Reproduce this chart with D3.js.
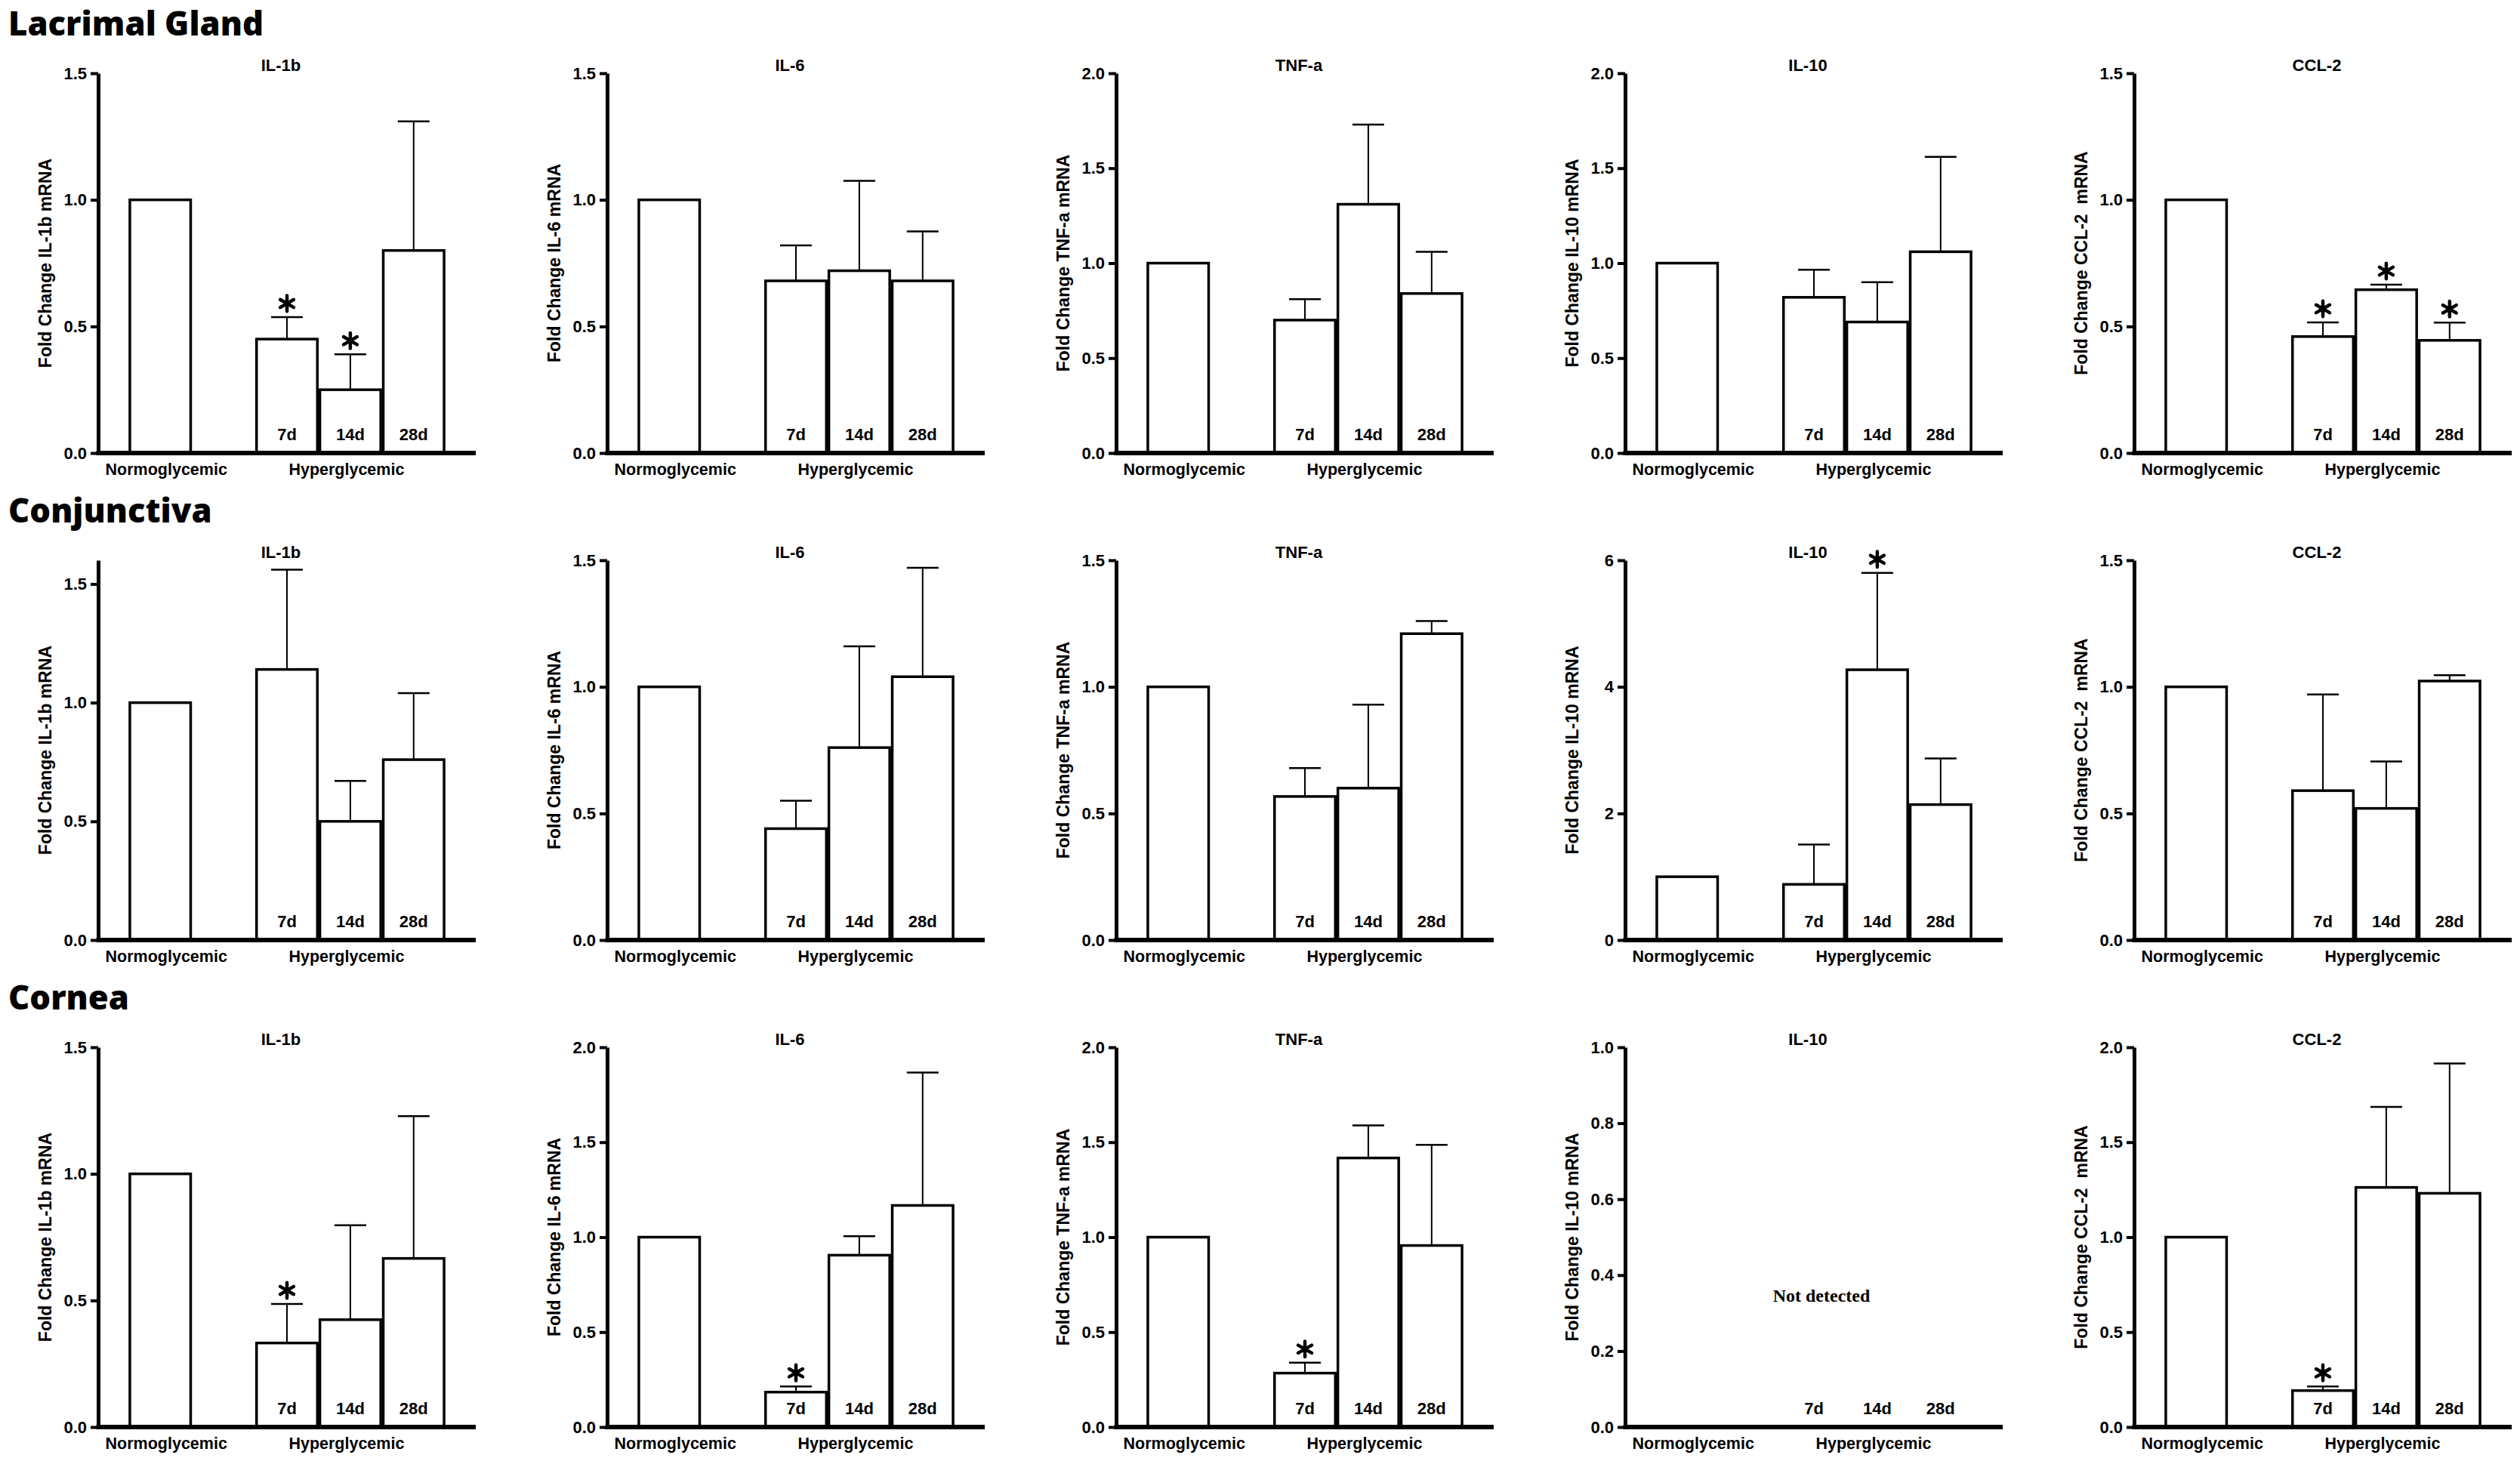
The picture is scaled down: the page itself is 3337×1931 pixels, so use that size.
<!DOCTYPE html>
<html>
<head>
<meta charset="utf-8">
<script src="https://cdn.jsdelivr.net/npm/d3@7"></script>
<style>
  body { margin: 0; background: #fff; }
  svg { display: block; }
</style>
</head>
<body>
<div id="chart"></div>
<script>
// Tissues (rows) and cytokines (columns)
const tissues = ["Lacrimal Gland", "Conjunctiva", "Cornea"];
const cytokines = ["IL-1b", "IL-6", "TNF-a", "IL-10", "CCL-2"];
const yLabels = ["Fold Change IL-1b mRNA", "Fold Change IL-6 mRNA", "Fold Change TNF-a mRNA",
                 "Fold Change IL-10 mRNA", "Fold Change CCL-2  mRNA"];

// Bar groups: control + 3 time points of hyperglycemia
const groups = ["Normoglycemic", "7d", "14d", "28d"];
const groupSlots = [0, 2, 3, 4]; // slot 1 is the gap between the two conditions

// Mean fold change, one row per cytokine
const lacrimalMeans = [
    [1.0, 0.45, 0.25, 0.80],
    [1.0, 0.68, 0.72, 0.68],
    [1.0, 0.70, 1.31, 0.84],
    [1.0, 0.82, 0.69, 1.06],
    [1.0, 0.46, 0.645, 0.445]
];
const lacrimalErrors = [
    [null, 0.087, 0.14, 0.51],
    [null, 0.14, 0.355, 0.195],
    [null, 0.11, 0.42, 0.22],
    [null, 0.145, 0.21, 0.50],
    [null, 0.056, 0.02, 0.07]
];
const lacrimalSig = [
    [false, true, true, false],
    [false, false, false, false],
    [false, false, false, false],
    [false, false, false, false],
    [false, true, true, true]
];

const conjunctivaMeans = [
    [1.0, 1.14, 0.50, 0.76],
    [1.0, 0.44, 0.76, 1.04],
    [1.0, 0.567, 0.60, 1.21],
    [1.0, 0.88, 4.27, 2.14],
    [1.0, 0.59, 0.52, 1.023]
];
const conjunctivaErrors = [
    [null, 0.42, 0.17, 0.28],
    [null, 0.11, 0.40, 0.43],
    [null, 0.112, 0.33, 0.05],
    [null, 0.63, 1.53, 0.73],
    [null, 0.38, 0.185, 0.023]
];
const conjunctivaSig = [
    [false, false, false, false],
    [false, false, false, false],
    [false, false, false, false],
    [false, false, true, false],
    [false, false, false, false]
];

const corneaMeans = [
    [1.0, 0.332, 0.424, 0.666],
    [1.0, 0.184, 0.905, 1.167],
    [1.0, 0.284, 1.417, 0.956],
    null, // IL-10 not detected
    [1.0, 0.192, 1.262, 1.231]
];
const corneaErrors = [
    [null, 0.154, 0.373, 0.562],
    [null, 0.03, 0.10, 0.70],
    [null, 0.055, 0.171, 0.53],
    null,
    [null, 0.022, 0.424, 0.684]
];
const corneaSig = [
    [false, true, false, false],
    [false, true, false, false],
    [false, true, false, false],
    null,
    [false, true, false, false]
];

// y axis extent and tick step per panel
const yMax = [
    [1.5, 1.5, 2.0, 2.0, 1.5],
    [1.6, 1.5, 1.5, 6, 1.5],
    [1.5, 2.0, 2.0, 1.0, 2.0]
];
const yStep = [
    [0.5, 0.5, 0.5, 0.5, 0.5],
    [0.5, 0.5, 0.5, 2, 0.5],
    [0.5, 0.5, 0.5, 0.2, 0.5]
];

const allMeans = [lacrimalMeans, conjunctivaMeans, corneaMeans];
const allErrors = [lacrimalErrors, conjunctivaErrors, corneaErrors];
const allSig = [lacrimalSig, conjunctivaSig, corneaSig];

document.addEventListener('DOMContentLoaded', function() {
    const W = 3337, H = 1931;
    const rowTop = [97, 742, 1387];
    const colLeft = [130, 804, 1478, 2152, 2826];
    const plotW = 500, plotH = 503;
    const font = "'Liberation Sans', Arial, sans-serif";

    const svg = d3.select("#chart").append("svg")
        .attr("width", W).attr("height", H)
        .style("background", "#fff");

    // slots along the x axis
    const xScale = d3.scaleBand()
        .domain(d3.range(5))
        .range([0, plotW])
        .paddingOuter(0.5)
        .paddingInner(0.04);

    // significance marker (6-spoke asterisk)
    const star = d3.symbol().type(d3.symbolAsterisk).size(300);

    // section headings
    tissues.forEach((t, r) => {
        svg.append("text")
            .attr("x", 11).attr("y", rowTop[r] - 50)
            .attr("font-family", "'Open Sans', sans-serif")
            .attr("font-weight", 800)
            .attr("font-size", 45)
            .attr("transform", `translate(11,0) scale(0.97,1) translate(-11,0)`)
            .attr("fill", "#000")
            .text(t);
    });

    function drawPanel(r, c) {
        const g = svg.append("g").attr("transform", `translate(${colLeft[c]},${rowTop[r]})`);
        const means = allMeans[r][c];
        const errs = allErrors[r][c];
        const sig = allSig[r][c];
        const step = yStep[r][c];

        const yScale = d3.scaleLinear().domain([0, yMax[r][c]]).range([plotH, 0]);
        const ticks = d3.range(0, yMax[r][c] + 1e-9, step);
        const fmt = step >= 1 ? d3.format("d") : d3.format(".1f");

        // y axis
        const yAxis = g.append("g")
            .call(d3.axisLeft(yScale).tickValues(ticks).tickFormat(fmt).tickSize(10).tickSizeOuter(0).tickPadding(5));
        yAxis.select(".domain").attr("stroke", "#000").attr("stroke-width", 5);
        yAxis.selectAll(".tick line").attr("stroke", "#000").attr("stroke-width", 4);
        yAxis.selectAll(".tick text")
            .attr("font-family", font).attr("font-weight", 700)
            .attr("font-size", 22).attr("fill", "#000");

        // title
        g.append("text")
            .attr("x", 242).attr("y", -3)
            .attr("text-anchor", "middle")
            .attr("font-family", font).attr("font-weight", 700).attr("font-size", 22)
            .text(cytokines[c]);

        // y label
        g.append("text")
            .attr("transform", `translate(-62,${plotH / 2}) rotate(-90)`)
            .attr("text-anchor", "middle")
            .attr("font-family", font).attr("font-weight", 700).attr("font-size", 23)
            .style("white-space", "pre")
            .text(yLabels[c]);

        // bars
        if (means) {
            const data = groups.map((gname, i) => ({
                name: gname, slot: groupSlots[i], mean: means[i], err: errs[i], sig: sig[i]
            }));

            g.selectAll(".bar").data(data).enter().append("rect")
                .attr("class", "bar")
                .attr("x", d => xScale(d.slot))
                .attr("width", xScale.bandwidth())
                .attr("y", d => yScale(d.mean))
                .attr("height", d => plotH - yScale(d.mean))
                .attr("fill", "#fff").attr("stroke", "#000").attr("stroke-width", 3.5);

            const withErr = data.filter(d => d.err != null);
            const cx = d => xScale(d.slot) + xScale.bandwidth() / 2;
            g.selectAll(".err").data(withErr).enter().append("line")
                .attr("x1", cx).attr("x2", cx)
                .attr("y1", d => yScale(d.mean)).attr("y2", d => yScale(d.mean + d.err))
                .attr("stroke", "#000").attr("stroke-width", 2);
            g.selectAll(".cap").data(withErr).enter().append("line")
                .attr("x1", d => cx(d) - 21).attr("x2", d => cx(d) + 21)
                .attr("y1", d => yScale(d.mean + d.err)).attr("y2", d => yScale(d.mean + d.err))
                .attr("stroke", "#000").attr("stroke-width", 2.5);

            g.selectAll(".star").data(data.filter(d => d.sig)).enter().append("path")
                .attr("d", star)
                .attr("transform", d => `translate(${cx(d)},${yScale(d.mean + (d.err || 0)) - 18})`)
                .attr("fill", "none").attr("stroke", "#000")
                .attr("stroke-width", 4.5).attr("stroke-linecap", "round");
        } else {
            g.append("text")
                .attr("x", plotW / 2 + 10).attr("y", yScale(0.33))
                .attr("text-anchor", "middle")
                .attr("font-family", "'Liberation Serif', 'Times New Roman', serif")
                .attr("font-weight", 700).attr("font-size", 24)
                .text("Not detected");
        }

        // time point labels inside bars
        groups.slice(1).forEach((gname, i) => {
            g.append("text")
                .attr("x", xScale(groupSlots[i + 1]) + xScale.bandwidth() / 2)
                .attr("y", plotH - 17)
                .attr("text-anchor", "middle")
                .attr("font-family", font).attr("font-weight", 700).attr("font-size", 22)
                .text(gname);
        });

        // x axis line
        g.append("line")
            .attr("x1", -2.5).attr("x2", plotW)
            .attr("y1", plotH).attr("y2", plotH)
            .attr("stroke", "#000").attr("stroke-width", 6);

        // condition labels
        g.append("text")
            .attr("x", xScale(0) + xScale.bandwidth() / 2 + 8).attr("y", plotH + 29)
            .attr("text-anchor", "middle")
            .attr("font-family", font).attr("font-weight", 700).attr("font-size", 21.5)
            .text("Normoglycemic");
        g.append("text")
            .attr("x", xScale(3) + xScale.bandwidth() / 2 - 5).attr("y", plotH + 29)
            .attr("text-anchor", "middle")
            .attr("font-family", font).attr("font-weight", 700).attr("font-size", 21.5)
            .text("Hyperglycemic");
    }

    tissues.forEach((t, r) => cytokines.forEach((cy, c) => drawPanel(r, c)));
});
</script>
</body>
</html>
